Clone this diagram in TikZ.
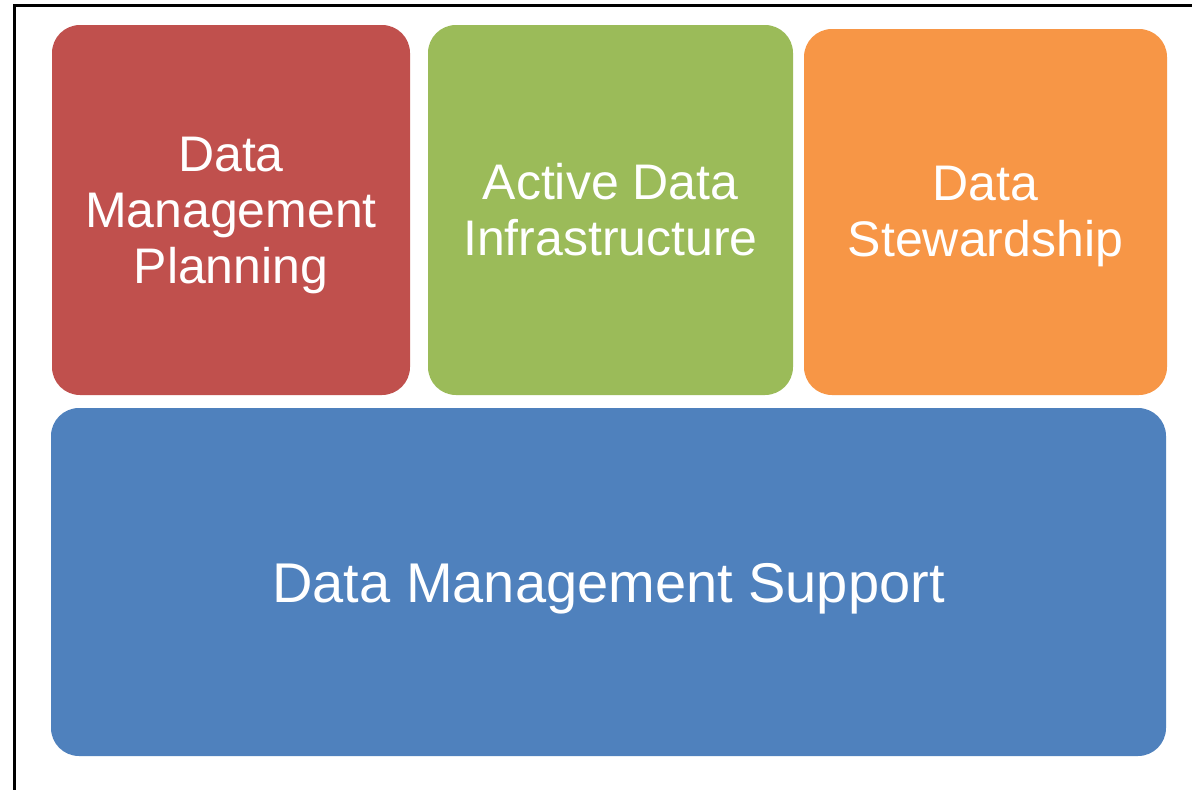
\documentclass[tikz,border=0pt]{standalone}
\usepackage{fontspec}
\setmainfont{Liberation Sans}
\definecolor{cred}{HTML}{C0504D}
\definecolor{cgreen}{HTML}{9BBB59}
\definecolor{corange}{HTML}{F79646}
\definecolor{cblue}{HTML}{4F81BD}
\begin{document}
\begin{tikzpicture}[x=1pt,y=-1pt,
  tile/.style={rectangle,rounded corners=28pt,inner sep=0pt,draw=none},
  toptext/.style={text=white,align=center,font=\fontsize{50}{56}\selectfont},
  bottext/.style={text=white,align=center,font=\fontsize{56}{62}\selectfont}]
\useasboundingbox (0,0) rectangle (1192,790);
\fill[white] (0,0) rectangle (1192,790);
\draw[line width=3pt] (14.5,790) -- (14.5,5.5) -- (1192,5.5);
\node[tile,fill=cred,minimum width=358pt,minimum height=370pt] (red) at (231,210) {};
\node[tile,fill=cgreen,minimum width=365pt,minimum height=370pt] (green) at (610.5,210) {};
\node[tile,fill=corange,minimum width=363pt,minimum height=366pt] (orange) at (985.5,212) {};
\node[tile,fill=cblue,minimum width=1115pt,minimum height=348pt] (blue) at (608.5,582) {};
\node[toptext,anchor=base] (redt) at (231,283) {Data\\Management\\Planning};
\node[toptext,anchor=base] (greent) at (610.5,255) {Active Data\\Infrastructure};
\node[toptext,anchor=base] (oranget) at (985.5,256) {Data\\Stewardship};
\node[bottext,anchor=base] (bluet) at (608.5,602) {Data Management Support};
\end{tikzpicture}
\end{document}
